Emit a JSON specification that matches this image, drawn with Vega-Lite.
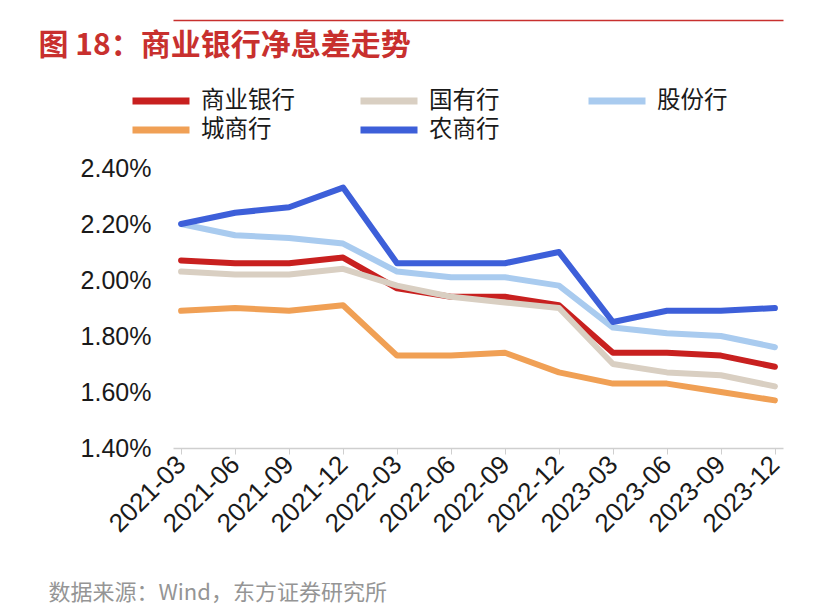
{
  "$schema": "https://vega.github.io/schema/vega-lite/v6.json",
  "autosize": "none",
  "width": 610,
  "height": 280,
  "padding": {"left": 173, "top": 168, "right": 45, "bottom": 160},
  "background": "white",
  "config": {
    "view": {"stroke": null},
    "font": "Liberation Sans, Noto Sans CJK SC",
    "axis": {"labelFont": "Liberation Sans, Noto Sans CJK SC", "titleFont": "Noto Sans CJK SC, Liberation Sans"},
    "legend": {"labelFont": "Noto Sans CJK SC"}
  },
  "data": {
    "values": [
      {"q": "2021-03", "type": "商业银行", "v": 2.07},
      {"q": "2021-06", "type": "商业银行", "v": 2.06},
      {"q": "2021-09", "type": "商业银行", "v": 2.06},
      {"q": "2021-12", "type": "商业银行", "v": 2.08},
      {"q": "2022-03", "type": "商业银行", "v": 1.97},
      {"q": "2022-06", "type": "商业银行", "v": 1.94},
      {"q": "2022-09", "type": "商业银行", "v": 1.94},
      {"q": "2022-12", "type": "商业银行", "v": 1.91},
      {"q": "2023-03", "type": "商业银行", "v": 1.74},
      {"q": "2023-06", "type": "商业银行", "v": 1.74},
      {"q": "2023-09", "type": "商业银行", "v": 1.73},
      {"q": "2023-12", "type": "商业银行", "v": 1.69},
      {"q": "2021-03", "type": "国有行", "v": 2.03},
      {"q": "2021-06", "type": "国有行", "v": 2.02},
      {"q": "2021-09", "type": "国有行", "v": 2.02},
      {"q": "2021-12", "type": "国有行", "v": 2.04},
      {"q": "2022-03", "type": "国有行", "v": 1.98},
      {"q": "2022-06", "type": "国有行", "v": 1.94},
      {"q": "2022-09", "type": "国有行", "v": 1.92},
      {"q": "2022-12", "type": "国有行", "v": 1.90},
      {"q": "2023-03", "type": "国有行", "v": 1.70},
      {"q": "2023-06", "type": "国有行", "v": 1.67},
      {"q": "2023-09", "type": "国有行", "v": 1.66},
      {"q": "2023-12", "type": "国有行", "v": 1.62},
      {"q": "2021-03", "type": "股份行", "v": 2.20},
      {"q": "2021-06", "type": "股份行", "v": 2.16},
      {"q": "2021-09", "type": "股份行", "v": 2.15},
      {"q": "2021-12", "type": "股份行", "v": 2.13},
      {"q": "2022-03", "type": "股份行", "v": 2.03},
      {"q": "2022-06", "type": "股份行", "v": 2.01},
      {"q": "2022-09", "type": "股份行", "v": 2.01},
      {"q": "2022-12", "type": "股份行", "v": 1.98},
      {"q": "2023-03", "type": "股份行", "v": 1.83},
      {"q": "2023-06", "type": "股份行", "v": 1.81},
      {"q": "2023-09", "type": "股份行", "v": 1.80},
      {"q": "2023-12", "type": "股份行", "v": 1.76},
      {"q": "2021-03", "type": "城商行", "v": 1.89},
      {"q": "2021-06", "type": "城商行", "v": 1.90},
      {"q": "2021-09", "type": "城商行", "v": 1.89},
      {"q": "2021-12", "type": "城商行", "v": 1.91},
      {"q": "2022-03", "type": "城商行", "v": 1.73},
      {"q": "2022-06", "type": "城商行", "v": 1.73},
      {"q": "2022-09", "type": "城商行", "v": 1.74},
      {"q": "2022-12", "type": "城商行", "v": 1.67},
      {"q": "2023-03", "type": "城商行", "v": 1.63},
      {"q": "2023-06", "type": "城商行", "v": 1.63},
      {"q": "2023-09", "type": "城商行", "v": 1.60},
      {"q": "2023-12", "type": "城商行", "v": 1.57},
      {"q": "2021-03", "type": "农商行", "v": 2.20},
      {"q": "2021-06", "type": "农商行", "v": 2.24},
      {"q": "2021-09", "type": "农商行", "v": 2.26},
      {"q": "2021-12", "type": "农商行", "v": 2.33},
      {"q": "2022-03", "type": "农商行", "v": 2.06},
      {"q": "2022-06", "type": "农商行", "v": 2.06},
      {"q": "2022-09", "type": "农商行", "v": 2.06},
      {"q": "2022-12", "type": "农商行", "v": 2.10},
      {"q": "2023-03", "type": "农商行", "v": 1.85},
      {"q": "2023-06", "type": "农商行", "v": 1.89},
      {"q": "2023-09", "type": "农商行", "v": 1.89},
      {"q": "2023-12", "type": "农商行", "v": 1.90}
    ]
  },
  "layer": [
    {
      "mark": {"type": "line", "strokeWidth": 6, "strokeJoin": "round", "strokeCap": "round"},
      "encoding": {
        "x": {
          "field": "q",
          "type": "ordinal",
          "sort": null,
          "scale": {"type": "point", "padding": 0.15},
          "axis": {
            "title": "数据来源：Wind，东方证券研究所",
            "titleX": -125,
            "titleY": 144,
            "titleAlign": "left",
            "titleAnchor": null,
            "titleBaseline": "middle",
            "titleFontSize": 22,
            "titleFontWeight": "normal",
            "titleColor": "#959595",
            "domainColor": "#cfcfcf",
            "domainWidth": 1.5,
            "tickColor": "#cfcfcf",
            "tickSize": 6,
            "labelAngle": -45,
            "labelAlign": "right",
            "labelBaseline": "middle",
            "labelFontSize": 26,
            "labelColor": "#1a1a1a",
            "labelPadding": 6
          }
        },
        "y": {
          "field": "v",
          "type": "quantitative",
          "scale": {"domain": [1.4, 2.4], "nice": false, "zero": false},
          "axis": {
            "title": null,
            "values": [1.4, 1.6, 1.8, 2.0, 2.2, 2.4],
            "labelExpr": "format(datum.value, '.2f') + '%'",
            "domain": false,
            "ticks": false,
            "grid": false,
            "labelFontSize": 25,
            "labelColor": "#1a1a1a",
            "labelPadding": 22
          }
        },
        "color": {
          "field": "type",
          "type": "nominal",
          "sort": null,
          "scale": {
            "domain": ["商业银行", "国有行", "股份行", "城商行", "农商行"],
            "range": ["#c8201f", "#d9cfc2", "#a9cbef", "#f0a055", "#3d5fd9"]
          },
          "legend": {
            "title": null,
            "orient": "none",
            "legendX": -44,
            "legendY": -80,
            "direction": "horizontal",
            "columns": 3,
            "gridAlign": "all",
            "columnPadding": 62,
            "rowPadding": 3,
            "clipHeight": 26,
            "symbolType": "stroke",
            "symbolSize": 3249,
            "symbolStrokeWidth": 7,
            "labelFontSize": 23.5,
            "labelColor": "#1a1a1a",
            "labelOffset": 8,
            "labelLimit": 200
          }
        }
      }
    },
    {
      "mark": {"type": "point", "opacity": 0},
      "encoding": {
        "x": {
          "field": "q",
          "type": "ordinal",
          "sort": null,
          "scale": {"type": "point", "padding": 0.15},
          "axis": {
            "orient": "top",
            "offset": 148,
            "labels": false,
            "ticks": false,
            "domainColor": "#c8302e",
            "domainWidth": 1.5,
            "title": "图 18：商业银行净息差走势",
            "titleX": -135,
            "titleY": 25,
            "titleAlign": "left",
            "titleAnchor": null,
            "titleBaseline": "middle",
            "titleFontSize": 30,
            "titleFontWeight": "bold",
            "titleColor": "#c8302e"
          }
        }
      }
    }
  ],
  "resolve": {"axis": {"x": "independent"}}
}
